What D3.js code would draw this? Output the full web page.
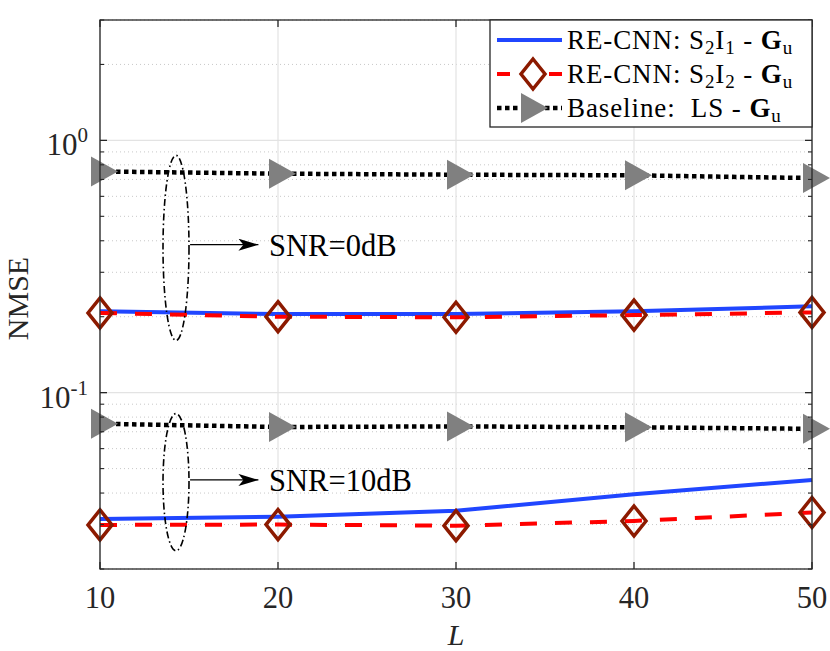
<!DOCTYPE html>
<html>
<head>
<meta charset="utf-8">
<script src="https://cdn.jsdelivr.net/npm/d3@7"></script>
<style>
  body { margin: 0; background: white; }
  text { font-family: "Liberation Serif", "Times New Roman", serif; fill: #262626; }
</style>
</head>
<body>
<div id="chart"></div>
<script>
// data
var L = [10, 20, 30, 40, 50];
var s2i1_0dB  = [0.210, 0.205, 0.205, 0.210, 0.220];
var s2i2_0dB  = [0.207, 0.200, 0.199, 0.203, 0.208];
var ls_0dB    = [0.753, 0.738, 0.731, 0.727, 0.709];
var s2i1_10dB = [0.0316, 0.0322, 0.0340, 0.0396, 0.0451];
var s2i2_10dB = [0.0299, 0.0300, 0.0297, 0.0310, 0.0335];
var ls_10dB   = [0.0753, 0.0731, 0.0735, 0.0729, 0.0719];

var xTicks = [10, 20, 30, 40, 50];
var yMajor = [0.1, 1];
var yMajorExp = ["-1", "0"];
var yMinor = [0.02, 0.03, 0.04, 0.05, 0.06, 0.07, 0.08, 0.09,
              0.2, 0.3, 0.4, 0.5, 0.6, 0.7, 0.8, 0.9, 2, 3];

// annotation groups: ellipse in data units, arrow, label
var groups = [
    {label: "SNR=0dB",  cx: 14.27, top: 0.872,  bottom: 0.161,  arrowY: 0.386},
    {label: "SNR=10dB", cx: 14.27, top: 0.0826, bottom: 0.0236, arrowY: 0.0451}
];

var margin = {top: 20, right: 18, bottom: 82, left: 100};
var W = 830, H = 651;
var width = W - margin.left - margin.right;
var height = H - margin.top - margin.bottom;

var svg = d3.select("#chart").append("svg")
    .attr("width", W)
    .attr("height", H);

var g = svg.append("g")
    .attr("transform", "translate(" + margin.left + "," + margin.top + ")");

//
// Scales
//
var x = d3.scaleLinear().domain([10, 50]).range([0, width]);
var y = d3.scaleLog().domain([0.02, 3]).range([height, 0]);

//
// Grid
//
g.selectAll(".gminor").data(yMinor).enter().append("line")
    .attr("x1", 0).attr("x2", width)
    .attr("y1", function(d) { return y(d); })
    .attr("y2", function(d) { return y(d); })
    .attr("stroke", "#c8c8c8")
    .attr("stroke-width", 1)
    .attr("stroke-dasharray", "1,3");

g.selectAll(".gmajor").data(yMajor).enter().append("line")
    .attr("x1", 0).attr("x2", width)
    .attr("y1", function(d) { return y(d); })
    .attr("y2", function(d) { return y(d); })
    .attr("stroke", "#e3e3e3")
    .attr("stroke-width", 1.2);

g.selectAll(".gx").data(xTicks).enter().append("line")
    .attr("x1", function(d) { return x(d); })
    .attr("x2", function(d) { return x(d); })
    .attr("y1", 0).attr("y2", height)
    .attr("stroke", "#e3e3e3")
    .attr("stroke-width", 1.2);

//
// Series
//
function series(vals) {
    return vals.map(function(v, i) { return [L[i], v]; });
}
var line = d3.line()
    .x(function(d) { return x(d[0]); })
    .y(function(d) { return y(d[1]); });

var blue = "#2046ff", red = "#ff0000", dred = "#8c1a00", gray = "#808080";

[s2i1_0dB, s2i1_10dB].forEach(function(s) {
    g.append("path")
        .datum(series(s))
        .attr("fill", "none")
        .attr("stroke", blue)
        .attr("stroke-width", 4)
        .attr("d", line);
});

[s2i2_0dB, s2i2_10dB].forEach(function(s) {
    g.append("path")
        .datum(series(s))
        .attr("fill", "none")
        .attr("stroke", red)
        .attr("stroke-width", 4)
        .attr("stroke-dasharray", "17,18")
        .attr("d", line);
});

[ls_0dB, ls_10dB].forEach(function(s) {
    g.append("path")
        .datum(series(s))
        .attr("fill", "none")
        .attr("stroke", "black")
        .attr("stroke-width", 4.5)
        .attr("stroke-dasharray", "4.5,3.5")
        .attr("d", line);
});

// markers
function diamond(cx, cy) {
    return "M" + cx + "," + (cy - 15) + "L" + (cx + 12) + "," + cy +
           "L" + cx + "," + (cy + 15) + "L" + (cx - 12) + "," + cy + "Z";
}
function triangle(cx, cy) {
    return "M" + (cx - 9) + "," + (cy - 15) + "L" + (cx + 18) + "," + cy +
           "L" + (cx - 9) + "," + (cy + 15) + "Z";
}

[s2i2_0dB, s2i2_10dB].forEach(function(s) {
    g.selectAll(null).data(series(s)).enter().append("path")
        .attr("d", function(d) { return diamond(x(d[0]), y(d[1])); })
        .attr("fill", "none")
        .attr("stroke", dred)
        .attr("stroke-width", 3.5);
});

[ls_0dB, ls_10dB].forEach(function(s) {
    g.selectAll(null).data(series(s)).enter().append("path")
        .attr("d", function(d) { return triangle(x(d[0]), y(d[1])); })
        .attr("fill", gray);
});

//
// Annotations
//
svg.append("defs").append("marker")
    .attr("id", "arrow")
    .attr("viewBox", "0 0 20 12")
    .attr("refX", 20).attr("refY", 6)
    .attr("markerWidth", 20).attr("markerHeight", 12)
    .attr("markerUnits", "userSpaceOnUse")
    .attr("orient", "auto")
    .append("path")
    .attr("d", "M0,0 L20,6 L0,12 L5,6 Z")
    .attr("fill", "black");

groups.forEach(function(a) {
    var yt = y(a.top), yb = y(a.bottom);
    g.append("ellipse")
        .attr("cx", x(a.cx))
        .attr("cy", (yt + yb) / 2)
        .attr("rx", x(a.cx + 0.73) - x(a.cx))
        .attr("ry", (yb - yt) / 2)
        .attr("fill", "none")
        .attr("stroke", "black")
        .attr("stroke-width", 1.6)
        .attr("stroke-dasharray", "7,3,1.5,3");
    g.append("line")
        .attr("x1", x(15.06)).attr("x2", x(18.9))
        .attr("y1", y(a.arrowY)).attr("y2", y(a.arrowY))
        .attr("stroke", "black")
        .attr("stroke-width", 1.3)
        .attr("marker-end", "url(#arrow)");
    g.append("text")
        .attr("x", x(19.5))
        .attr("y", y(a.arrowY))
        .attr("dy", "0.36em")
        .style("font-size", "30.5px")
        .style("fill", "black")
        .text(a.label);
});

//
// Axes
//
var axisColor = "#262626";
g.append("rect")
    .attr("width", width).attr("height", height)
    .attr("fill", "none")
    .attr("stroke", axisColor)
    .attr("stroke-width", 1.3);

// ticks, inward on all four sides
xTicks.forEach(function(t) {
    g.append("line").attr("x1", x(t)).attr("x2", x(t)).attr("y1", height).attr("y2", height - 7)
        .attr("stroke", axisColor).attr("stroke-width", 1.3);
    g.append("line").attr("x1", x(t)).attr("x2", x(t)).attr("y1", 0).attr("y2", 7)
        .attr("stroke", axisColor).attr("stroke-width", 1.3);
});
yMajor.forEach(function(t) {
    g.append("line").attr("x1", 0).attr("x2", 7).attr("y1", y(t)).attr("y2", y(t))
        .attr("stroke", axisColor).attr("stroke-width", 1.3);
    g.append("line").attr("x1", width).attr("x2", width - 7).attr("y1", y(t)).attr("y2", y(t))
        .attr("stroke", axisColor).attr("stroke-width", 1.3);
});
yMinor.forEach(function(t) {
    g.append("line").attr("x1", 0).attr("x2", 4).attr("y1", y(t)).attr("y2", y(t))
        .attr("stroke", axisColor).attr("stroke-width", 1.1);
    g.append("line").attr("x1", width).attr("x2", width - 4).attr("y1", y(t)).attr("y2", y(t))
        .attr("stroke", axisColor).attr("stroke-width", 1.1);
});

// tick labels
g.selectAll(".xl").data(xTicks).enter().append("text")
    .attr("x", function(d) { return x(d); })
    .attr("y", height + 39)
    .attr("text-anchor", "middle")
    .style("font-size", "30.5px")
    .text(function(d) { return d; });

yMajor.forEach(function(t, i) {
    var tx = g.append("text")
        .attr("x", -12)
        .attr("y", y(t) + 15)
        .attr("text-anchor", "end")
        .style("font-size", "31px");
    tx.append("tspan").text("10");
    tx.append("tspan").attr("dy", -13).style("font-size", "21px").text(yMajorExp[i]);
});

// axis titles
g.append("text")
    .attr("x", width / 2)
    .attr("y", height + 76)
    .attr("text-anchor", "middle")
    .style("font-size", "30px")
    .style("font-style", "italic")
    .text("L");

g.append("text")
    .attr("transform", "translate(-72," + (height / 2 + 4) + ") rotate(-90)")
    .attr("text-anchor", "middle")
    .style("font-size", "30px")
    .text("NMSE");

//
// Legend
//
var lg = g.append("g").attr("transform", "translate(" + (width - 322) + ",0)");
lg.append("rect")
    .attr("width", 322).attr("height", 107)
    .attr("fill", "white")
    .attr("stroke", axisColor)
    .attr("stroke-width", 1.3);

var legendItems = [
    {sub: "1", type: "blue", label: "RE-CNN: S"},
    {sub: "2", type: "red", label: "RE-CNN: S"},
    {sub: null, type: "ls", label: "Baseline:  LS - "}
];
legendItems.forEach(function(it, i) {
    var cy = 20 + i * 34;
    if (it.type === "blue") {
        lg.append("line").attr("x1", 7).attr("x2", 72).attr("y1", cy).attr("y2", cy)
            .attr("stroke", blue).attr("stroke-width", 4);
    } else if (it.type === "red") {
        lg.append("line").attr("x1", 7).attr("x2", 72).attr("y1", cy).attr("y2", cy)
            .attr("stroke", red).attr("stroke-width", 4).attr("stroke-dasharray", "13,39");
        lg.append("path").attr("d", diamond(43, cy))
            .attr("fill", "white").attr("stroke", dred).attr("stroke-width", 3.5);
    } else {
        lg.append("line").attr("x1", 7).attr("x2", 72).attr("y1", cy).attr("y2", cy)
            .attr("stroke", "black").attr("stroke-width", 4.5).attr("stroke-dasharray", "4.5,3.5");
        lg.append("path").attr("d", triangle(40, cy)).attr("fill", gray);
    }
    var t = lg.append("text")
        .attr("x", 77)
        .attr("y", cy + 9)
        .style("font-size", "27px")
        .style("letter-spacing", "0.9px")
        .style("white-space", "pre")
        .style("fill", "black");
    if (it.sub) {
        t.append("tspan").text("RE-CNN: S");
        t.append("tspan").attr("dy", 5).style("font-size", "19px").text("2");
        t.append("tspan").attr("dy", -5).text("I");
        t.append("tspan").attr("dy", 5).style("font-size", "19px").text(it.sub);
        t.append("tspan").attr("dy", -5).text(" - ");
    } else {
        t.append("tspan").text(it.label);
    }
    t.append("tspan").style("font-weight", "bold").text("G");
    t.append("tspan").attr("dy", 5).style("font-size", "19px").text("u");
});
</script>
</body>
</html>
